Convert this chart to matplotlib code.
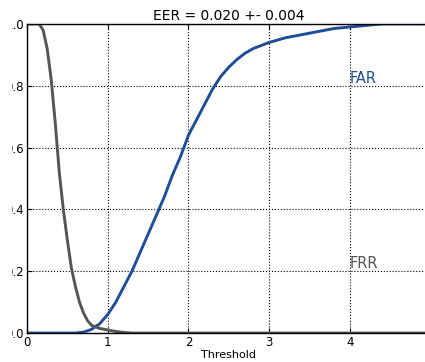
import numpy as np
import matplotlib
matplotlib.use('Agg')
from matplotlib import pyplot as plt
from matplotlib.transforms import Bbox

# threshold / rate values
far_x = [0.0, 0.6, 0.7, 0.8, 0.9, 1.0, 1.1, 1.2, 1.3, 1.4, 1.5, 1.6, 1.7, 1.8, 1.9, 2.0,
         2.1, 2.2, 2.3, 2.4, 2.5, 2.6, 2.7, 2.8, 2.9, 3.0, 3.2, 3.4, 3.6, 3.8, 4.0, 4.2, 4.4, 5.0]
far_y = [0.0, 0.0, 0.003, 0.012, 0.03, 0.06, 0.1, 0.15, 0.2, 0.26, 0.32, 0.38, 0.44, 0.51, 0.57, 0.64,
         0.69, 0.74, 0.79, 0.83, 0.86, 0.885, 0.905, 0.92, 0.93, 0.94, 0.955, 0.965, 0.975, 0.985, 0.99, 0.995, 1.0, 1.0]

frr_x = [0.0, 0.15, 0.2, 0.25, 0.3, 0.35, 0.4, 0.45, 0.5, 0.55, 0.6, 0.65, 0.7, 0.75, 0.8,
         0.9, 1.0, 1.1, 1.2, 1.3, 5.0]
frr_y = [1.0, 1.0, 0.98, 0.92, 0.82, 0.68, 0.52, 0.4, 0.3, 0.21, 0.15, 0.1, 0.065, 0.04, 0.025,
         0.015, 0.01, 0.005, 0.002, 0.0, 0.0]

eer, eer_std = 0.020, 0.004

fig = plt.figure(figsize=(4.25, 3.62), dpi=100)
ax = fig.add_axes([0.0635, 0.080, 0.95, 0.854])
ax.plot(far_x, far_y, color='#1f4e96', lw=2.1)
ax.plot(frr_x, frr_y, color='#555555', lw=2.1)
ax.text(4.0, 0.8, 'FAR', color='#1f4e96', fontsize=10.5, ha='left', va='bottom')
ax.text(4.0, 0.2, 'FRR', color='#555555', fontsize=10.5, ha='left', va='bottom')
ax.set_xlim(0, 5)
ax.set_ylim(0, 1)
ax.set_xticks([0, 1, 2, 3, 4])
ax.set_yticks([0, 0.2, 0.4, 0.6, 0.8, 1.0])
ax.set_yticklabels(['0.0', '0.2', '0.4', '0.6', '0.8', '1.0'])
ax.grid(True, linestyle=':', color='black', lw=0.8)
ax.tick_params(direction='in', labelsize=8.5, top=True, right=True, pad=2)
for s in ax.spines.values():
    s.set_linewidth(1.0)
ax.set_xlabel('Threshold', fontsize=8, labelpad=1)
ax.set_title('EER = %.3f +- %.3f' % (eer, eer_std), fontsize=10, pad=3)

# the reference is cut on its left side, so the y labels are only partly shown
clip = Bbox.from_extents(12, 0, 425, 362)
for lab in ax.get_yticklabels():
    lab.set_clip_box(clip)
    lab.set_clip_on(True)

fig.savefig('out.png', dpi=100)
